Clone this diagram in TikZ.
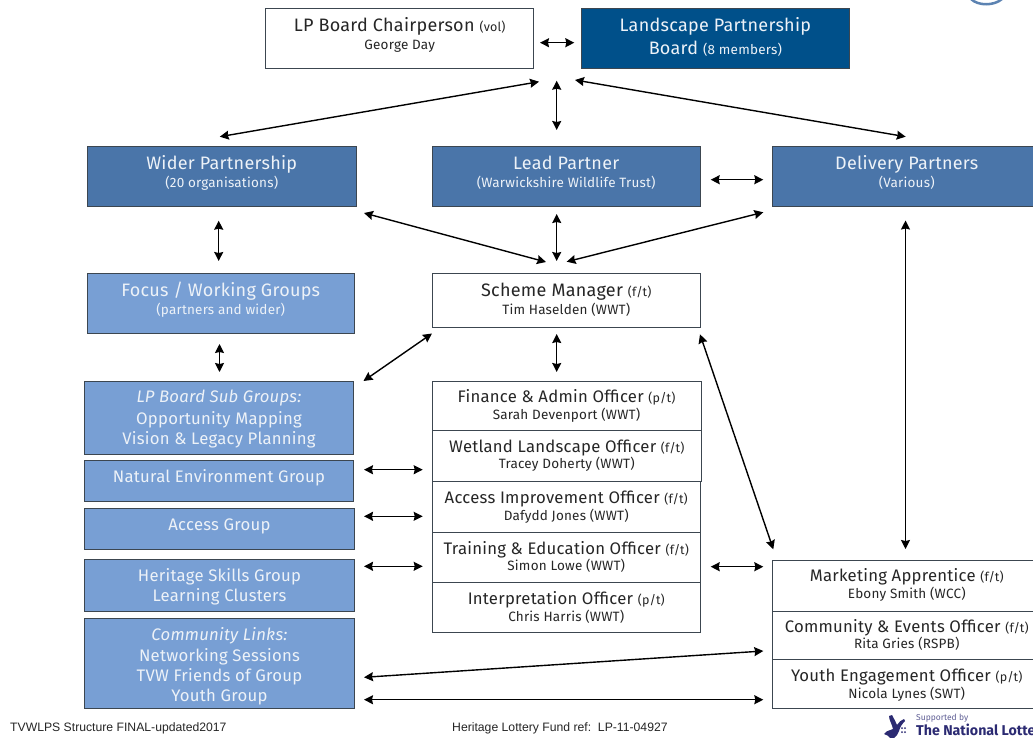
\documentclass[tikz,border=0pt]{standalone}
\usepackage{fontspec}
\setmainfont{Fira Sans}[LetterSpace=1.5]
\newfontfamily\footfont{Liberation Sans}
\newfontfamily\logofont{Fira Sans}[BoldFont={Fira Sans Bold}]
\usetikzlibrary{arrows.meta}
\definecolor{boardblue}{HTML}{00508A}
\definecolor{midblue}{HTML}{4A75A9}
\definecolor{lightblue}{HTML}{789FD4}
\definecolor{edgedark}{HTML}{3C4650}
\definecolor{palefont}{HTML}{EDF2F8}
\definecolor{darkfont}{HTML}{262626}
\definecolor{lottery}{HTML}{2B2A72}
\newcommand\lnh[1]{\vrule width 0pt height #1pt depth 5pt\relax}
\newcommand\txtT[1]{{\fontsize{18}{20}\selectfont #1}}
\newcommand\txtO[1]{{\fontsize{16.7}{20}\selectfont #1}}
\newcommand\txtU[1]{{\fontsize{13.5}{20}\selectfont #1}}
\newcommand\txtS[1]{{\fontsize{12.5}{20}\selectfont #1}}
\newcommand\stackedlines[1]{\vbox{\let\\\cr\baselineskip=0pt\lineskip=0pt\lineskiplimit=0pt\halign{\hfil##\hfil\cr #1\crcr}}}
% style, name, x1, y1, x2, y2, first baseline, text
\newcommand\bx[8]{%
  \pgfmathsetmacro\boxw{#5-#3}\pgfmathsetmacro\boxh{#6-#4}%
  \pgfmathsetmacro\boxcx{(#3+#5)/2}\pgfmathsetmacro\boxcy{(#4+#6)/2}%
  \pgfmathsetmacro\boxty{#7-16}%
  \node[#1,minimum width=\boxw pt,minimum height=\boxh pt] (#2) at (\boxcx,\boxcy) {};
  \node[boxtext,#1text] (#2-t) at (\boxcx,\boxty) {\stackedlines{#8}};
}
\tikzset{
  basebox/.style={draw=edgedark,line width=1pt,inner sep=0pt,outer sep=0pt},
  boardbox/.style={basebox,fill=boardblue},
  midbox/.style={basebox,fill=midblue},
  lightbox/.style={basebox,fill=lightblue},
  whitebox/.style={basebox,fill=white},
  boxtext/.style={anchor=north,inner sep=0pt,outer sep=0pt},
  boardboxtext/.style={text=palefont},
  midboxtext/.style={text=palefont},
  lightboxtext/.style={text=palefont},
  whiteboxtext/.style={text=darkfont},
  link/.style={line width=1.4pt,draw=black,{Stealth[length=9pt,width=9pt,inset=1pt]}-{Stealth[length=9pt,width=9pt,inset=1pt]}},
  foot/.style={anchor=base west,inner sep=0pt,font=\footfont\fontsize{12.2}{14}\selectfont,text=black!85}
}
\begin{document}
\begin{tikzpicture}[x=1pt,y=-1pt]
\clip (0,0) rectangle (1033,737);
\fill[white] (0,0) rectangle (1033,737);
% corner arc of a logo
\draw[line width=2.5pt,draw=midblue!90!white] (971,-1) .. controls (978,6) and (994,6) .. (1002,-1);

\bx{whitebox}{chair}{265.7}{8.7}{533.7}{68.7}{31.5}{\lnh{16}\txtT{LP Board Chairperson \txtS{(vol)}}\\\lnh{13}\txtU{George Day}}
\bx{boardbox}{board}{581.7}{8.7}{849}{68.7}{31.5}{\lnh{16}\txtT{Landscape Partnership}\\\lnh{17.5}\txtT{Board \txtU{(8 members)}}}
\bx{midbox}{wider}{87}{146}{356.5}{206.5}{169}{\lnh{16}\txtT{Wider Partnership}\\\lnh{13.7}\txtU{(20 organisations)}}
\bx{midbox}{lead}{432}{146}{700.5}{206.5}{169}{\lnh{16}\txtT{Lead Partner}\\\lnh{13.7}\txtU{(Warwickshire Wildlife Trust)}}
\bx{midbox}{delivery}{772.5}{146}{1041}{206.5}{169}{\lnh{16}\txtT{Delivery Partners}\\\lnh{13.7}\txtU{(Various)}}
\bx{lightbox}{focus}{87}{273}{354.5}{333.5}{296.7}{\lnh{16}\txtT{Focus / Working Groups}\\\lnh{12.6}\txtU{(partners and wider)}}
\bx{whitebox}{scheme}{432}{273}{700.5}{327}{296.7}{\lnh{16}\txtT{Scheme Manager \txtS{(f/t)}}\\\lnh{12.6}\txtU{Tim Haselden (WWT)}}

\bx{lightbox}{subgroups}{84.5}{381.7}{353.5}{454}{402.3}{\lnh{16}\txtO{\itshape LP Board Sub Groups:}\\\lnh{16.7}\txtO{Opportunity Mapping}\\\lnh{15}\txtO{Vision \& Legacy Planning}}
\bx{lightbox}{natural}{84.5}{460.7}{353.5}{501.7}{482.7}{\lnh{16}\txtO{Natural Environment Group}}
\bx{lightbox}{access}{84.5}{508.7}{354.5}{549.3}{530.3}{\lnh{16}\txtO{Access Group}}
\bx{lightbox}{heritage}{84.5}{559}{354.5}{611.3}{581}{\lnh{16}\txtO{Heritage Skills Group}\\\lnh{15}\txtO{Learning Clusters}}
\bx{lightbox}{community}{84.5}{618.3}{354.5}{708.3}{640}{\lnh{16}\txtO{\itshape Community Links:}\\\lnh{16}\txtO{Networking Sessions}\\\lnh{15}\txtO{TVW Friends of Group}\\\lnh{15}\txtO{Youth Group}}

\bx{whitebox}{finance}{432}{381.7}{701}{430.3}{402.3}{\lnh{16}\txtO{Finance \& Admin Officer \txtS{(p/t)}}\\\lnh{12}\txtU{Sarah Devenport (WWT)}}
\bx{whitebox}{wetland}{432}{430.3}{701.5}{481.5}{452}{\lnh{16}\txtO{Wetland Landscape Officer \txtS{(f/t)}}\\\lnh{10.7}\txtU{Tracey Doherty (WWT)}}
\bx{whitebox}{improve}{432}{481.5}{700.5}{532.3}{503.3}{\lnh{16}\txtO{Access Improvement Officer \txtS{(f/t)}}\\\lnh{11.7}\txtU{Dafydd Jones (WWT)}}
\bx{whitebox}{training}{432}{532.3}{700.5}{582.7}{554}{\lnh{16}\txtO{Training \& Education Officer \txtS{(f/t)}}\\\lnh{11}\txtU{Simon Lowe (WWT)}}
\bx{whitebox}{interp}{432}{582.7}{700.5}{632.3}{604.3}{\lnh{16}\txtO{Interpretation Officer \txtS{(p/t)}}\\\lnh{11.7}\txtU{Chris Harris (WWT)}}

\bx{whitebox}{marketing}{772.5}{560}{1041}{611.3}{581.7}{\lnh{16}\txtO{Marketing Apprentice \txtS{(f/t)}}\\\lnh{11.7}\txtU{Ebony Smith (WCC)}}
\bx{whitebox}{events}{772.5}{611.3}{1041}{659.7}{632}{\lnh{16}\txtO{Community \& Events Officer \txtS{(f/t)}}\\\lnh{11.7}\txtU{Rita Gries (RSPB)}}
\bx{whitebox}{youth}{772.5}{659.7}{1041}{708.3}{681.7}{\lnh{16}\txtO{Youth Engagement Officer \txtS{(p/t)}}\\\lnh{11}\txtU{Nicola Lynes (SWT)}}

% free connector ends
\coordinate (a1) at (540,42.7);   \coordinate (a2) at (574.3,42.7);
\coordinate (b1) at (539,81.7);   \coordinate (b2) at (219.8,136.7);
\coordinate (c1) at (556.7,80.7); \coordinate (c2) at (556.7,130);
\coordinate (d1) at (575,80);     \coordinate (d2) at (905.7,136.7);
\coordinate (e1) at (710.7,179.7);\coordinate (e2) at (763.3,179.7);
\coordinate (f1) at (218.7,220.7);\coordinate (f2) at (218.7,261);
\coordinate (g1) at (556.7,214);  \coordinate (g2) at (556.7,261);
\coordinate (h1) at (364,213);    \coordinate (h2) at (546,262);
\coordinate (i1) at (763.3,212.3);\coordinate (i2) at (566.7,261.7);
\coordinate (j1) at (219.5,344);  \coordinate (j2) at (219.5,372);
\coordinate (k1) at (432,333.5);  \coordinate (k2) at (363.5,381);
\coordinate (l1) at (556.7,334);  \coordinate (l2) at (556.7,372);
\coordinate (m1) at (700,334.3);  \coordinate (m2) at (773.3,549.3);
\coordinate (n1) at (905.5,220.5);\coordinate (n2) at (905.5,549);
\coordinate (o1) at (364,469.7);  \coordinate (o2) at (422.7,469.7);
\coordinate (p1) at (364,516.3);  \coordinate (p2) at (422.7,516.3);
\coordinate (q1) at (364,566.3);  \coordinate (q2) at (422.7,566.3);
\coordinate (r1) at (710.7,566.7);\coordinate (r2) at (763.3,566.7);
\coordinate (s1) at (364,677.3);  \coordinate (s2) at (763.3,651);
\coordinate (t1) at (364,699.7);  \coordinate (t2) at (763.3,699.7);
\foreach \e in {a,b,c,d,e,f,g,h,i,j,k,l,m,n,o,p,q,r,s,t}{\draw[link] (\e1) -- (\e2);}

\node[foot] (footleft) at (10,731.7) {TVWLPS Structure FINAL-updated2017};
\node[foot] (footright) at (452,731.7) {Heritage Lottery Fund ref:\ \ LP-11-04927};

% lottery mark
\fill[lottery] (884,734) .. controls (888,729) and (891,731) .. (893,729)
  .. controls (892,724) and (889,720) .. (889,716) -- (892,715)
  .. controls (894,719) and (896,722) .. (897,725)
  .. controls (899,722) and (901,720) .. (904,719) -- (905,721)
  .. controls (902,724) and (900,727) .. (899,731)
  .. controls (898,734) and (896,737) .. (894,738) -- (890,738) .. controls (889,736) and (887,735) .. (884,734) -- cycle;
\fill[lottery] (902,728) circle (1) (905,728) circle (1) (902,732) circle (1) (905,732) circle (1);
\node[anchor=base west,inner sep=0pt,text=lottery!75,font=\logofont\fontsize{8.5}{9}\selectfont] (supported) at (916,720) {Supported by};
\node[anchor=base west,inner sep=0pt,text=lottery,font=\logofont\fontsize{14.2}{16}\selectfont\bfseries] (national) at (916,735.5) {The National Lotte};
\end{tikzpicture}
\end{document}
